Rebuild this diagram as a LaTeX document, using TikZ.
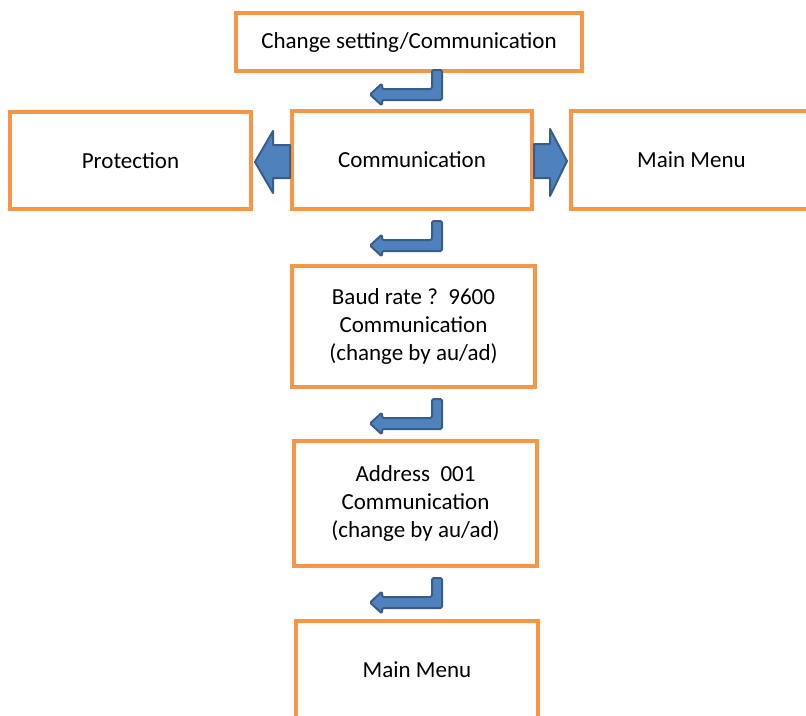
\documentclass[tikz,border=0pt]{standalone}
\usepackage{fontspec}
\setmainfont{Carlito}
\definecolor{boxorange}{HTML}{F79646}
\definecolor{arrfill}{HTML}{4F81BD}
\definecolor{arrline}{HTML}{385D8A}
\tikzset{
  box/.style={draw=boxorange, line width=3.5pt, fill=white, align=center,
    font=\fontsize{23}{28}\selectfont, inner sep=0pt},
  blockarrow/.style={fill=arrfill, draw=arrline, line width=2pt, line join=round},
  pics/elbow/.style={code={
    \path[blockarrow, rounded corners=1.5pt] (0,0) -- (0,30) -- (-60,30) -- (-60,35.5) -- (-72,24.5)
      -- (-60,13.5) -- (-60,19) -- (-10,19) -- (-10,0) -- cycle;}},
  pics/leftarrow/.style={code={
    \path[blockarrow] (0,0) -- (18,-31) -- (18,-17) -- (35,-17) -- (35,16) -- (18,16) -- (18,31) -- cycle;}},
  pics/rightarrow/.style={code={
    \path[blockarrow] (0,0) -- (-17,-32) -- (-17,-17) -- (-33,-17) -- (-33,17) -- (-17,17) -- (-17,35) -- cycle;}}
}
\begin{document}
\begin{tikzpicture}[x=1pt,y=-1pt]
\useasboundingbox (0,0) rectangle (806,715);
\clip (0,0) rectangle (806,715);
\fill[white] (0,0) rectangle (806,715);

\node[box, minimum width=346pt, minimum height=58pt] (top) at (409,42) {Change setting/Communication};
\node[box, minimum width=240pt, minimum height=98pt] (comm) at (412,160) {Communication};
\node[box, minimum width=241pt, minimum height=97pt] (prot) at (130.5,160.5) {Protection};
\node[box, minimum width=241pt, minimum height=98pt] (mainr) at (691.5,160) {Main Menu};
\node[box, minimum width=243pt, minimum height=121pt] (baud) at (413.5,326.5) {Baud rate ?\ \ 9600\\Communication\\(change by au/ad)};
\node[box, minimum width=243pt, minimum height=125pt] (addr) at (415.5,503.5) {Address\ \ 001\\Communication\\(change by au/ad)};
\node[box, minimum width=242pt, minimum height=98pt] (mainb) at (417,670) {Main Menu};

\coordinate (e1) at (442,70);
\coordinate (e2) at (442,221);
\coordinate (e3) at (442,399);
\coordinate (e4) at (442,578);
\pic at (e1) {elbow};
\pic at (e2) {elbow};
\pic at (e3) {elbow};
\pic at (e4) {elbow};

\coordinate (la) at (255,162);
\coordinate (ra) at (567,161);
\pic at (la) {leftarrow};
\pic at (ra) {rightarrow};
\end{tikzpicture}
\end{document}
